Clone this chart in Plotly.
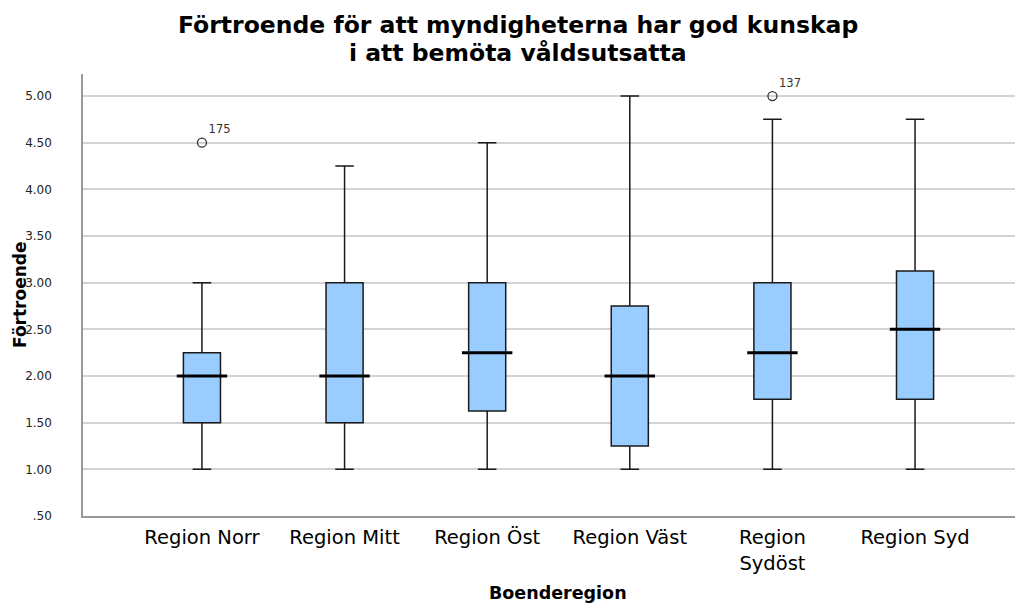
import plotly.graph_objects as go

# ---- data ----
categories = ["Region Norr", "Region Mitt", "Region Öst", "Region Väst", "Region Sydöst", "Region Syd"]
tick_labels = ["Region Norr", "Region Mitt", "Region Öst", "Region Väst", "Region<br>Sydöst", "Region Syd"]
q1 = [1.5, 1.5, 1.625, 1.25, 1.75, 1.75]
median = [2.0, 2.0, 2.25, 2.0, 2.25, 2.5]
q3 = [2.25, 3.0, 3.0, 2.75, 3.0, 3.125]
lower_whisker = [1.0, 1.0, 1.0, 1.0, 1.0, 1.0]
upper_whisker = [3.0, 4.25, 4.5, 5.0, 4.75, 4.75]
outlier_region = ["Region Norr", "Region Sydöst"]
outlier_value = [4.5, 5.0]
outlier_label = ["175", "137"]
y_ticks = [0.5, 1.0, 1.5, 2.0, 2.5, 3.0, 3.5, 4.0, 4.5, 5.0]
y_tick_text = [".50", "1.00", "1.50", "2.00", "2.50", "3.00", "3.50", "4.00", "4.50", "5.00"]
title_lines = ["Förtroende för att myndigheterna har god kunskap", "i att bemöta våldsutsatta"]

fig = go.Figure()

fig.add_trace(go.Box(
    x=categories, q1=q1, median=median, q3=q3,
    lowerfence=lower_whisker, upperfence=upper_whisker,
    boxpoints=False, width=0.26, whiskerwidth=0.5,
    fillcolor="#99CCFF", line=dict(color="#1a1a1a", width=1.5),
    showlegend=False, hoverinfo="skip",
))

# thick median lines
fig.add_trace(go.Scatter(
    x=categories, y=median, mode="markers",
    marker=dict(symbol="line-ew", size=36, line=dict(color="black", width=3)),
    showlegend=False, hoverinfo="skip",
))

# outliers
fig.add_trace(go.Scatter(
    x=outlier_region, y=outlier_value, mode="markers+text",
    text=outlier_label, textposition="top right",
    textfont=dict(family="DejaVu Sans", size=11.5, color="#333333"),
    marker=dict(symbol="circle-open", size=9, color="#333333", line=dict(width=1.3)),
    showlegend=False, hoverinfo="skip",
))

# page body has an 8px default margin, so the figure is sized to fit the window
fig.update_layout(
    width=1015, height=596,
    margin=dict(l=75, r=0, t=66, b=88, autoexpand=False),
    paper_bgcolor="white", plot_bgcolor="white",
    xaxis=dict(
        type="category", categoryorder="array", categoryarray=categories,
        tickvals=categories, ticktext=tick_labels, automargin=False,
        range=[-0.834, 5.757], showgrid=False, zeroline=False,
        showline=True, linecolor="#999999", linewidth=1.5,
        ticks="", tickfont=dict(family="DejaVu Sans", size=19.5, color="black"),
        ticklabelstandoff=3,
    ),
    yaxis=dict(
        range=[0.5, 5.236], tickvals=y_ticks, ticktext=y_tick_text, automargin=False,
        showgrid=True, gridcolor="#D3D3D3", gridwidth=1.5,
        zeroline=False, showline=True, linecolor="#999999", linewidth=1.5,
        ticks="", tickfont=dict(family="DejaVu Sans", size=12, color="#222222"),
        ticklabelstandoff=27,
    ),
    annotations=[
        dict(text="<b>%s</b>" % title_lines[0], xref="paper", yref="paper", x=0.463, y=1.111,
             xanchor="center", yanchor="middle", showarrow=False,
             font=dict(family="DejaVu Sans", size=23.5, color="black")),
        dict(text="<b>%s</b>" % title_lines[1], xref="paper", yref="paper", x=0.463, y=1.0475,
             xanchor="center", yanchor="middle", showarrow=False,
             font=dict(family="DejaVu Sans", size=23.5, color="black")),
        dict(text="<b>Boenderegion</b>", xref="paper", yref="paper", x=0.505, y=-0.175,
             xanchor="center", yanchor="middle", showarrow=False,
             font=dict(family="DejaVu Sans", size=17.5, color="black")),
        dict(text="<b>Förtroende</b>", xref="paper", yref="paper", x=-0.067, y=0.5,
             xanchor="center", yanchor="middle", textangle=-90, showarrow=False,
             font=dict(family="DejaVu Sans", size=17, color="black")),
    ],
)

fig.write_html("out.html")
